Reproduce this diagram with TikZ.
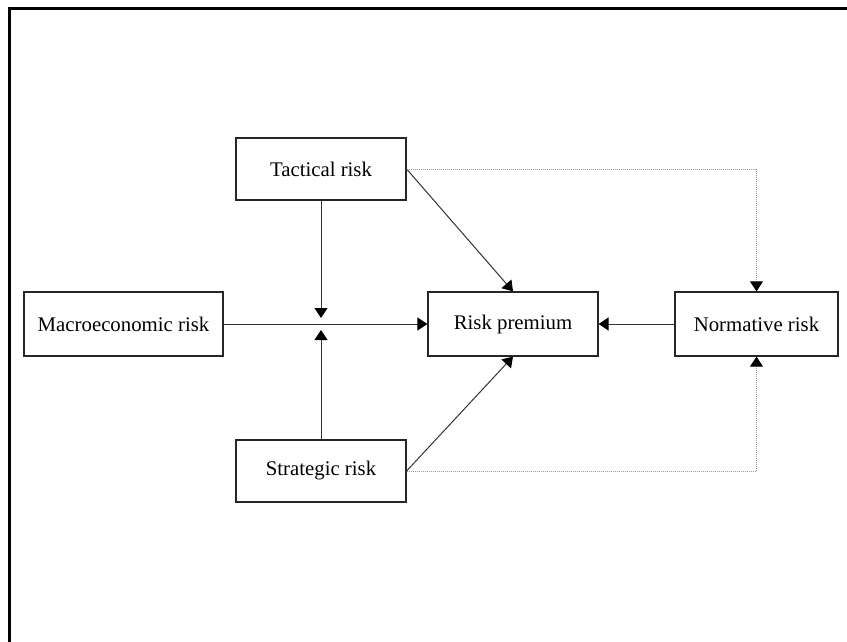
\documentclass[tikz,border=0pt]{standalone}
\usepackage{fontspec}
\setmainfont{Liberation Serif}
\usetikzlibrary{arrows.meta}
\begin{document}
\begin{tikzpicture}[x=1pt,y=-1pt,
  box/.style={draw=black!85, line width=1.2pt, fill=white, inner sep=0pt,
    font=\fontsize{20.8}{25}\selectfont},
  arr/.style={draw=black!80, line width=1pt, -{Triangle[length=10pt,width=13pt,fill=black,color=black]}},
  dotarr/.style={draw=black!40, line width=0.8pt, dash pattern=on 1pt off 1pt,
    -{Triangle[length=10pt,width=13pt,fill=black,color=black]}}]
\useasboundingbox (0,0) rectangle (847,642);
\draw[line width=3pt] (9,642) -- (9,9) -- (847,9);
\node[box, minimum width=199pt, minimum height=64pt] (mac) at (123.5,324) {Macroeconomic risk};
\node[box, minimum width=170pt, minimum height=62pt] (tac) at (321,169) {Tactical risk};
\node[box, minimum width=170pt, minimum height=62pt] (str) at (321,471) {Strategic risk};
\node[box, minimum width=170pt, minimum height=64pt] (rp) at (513,324) {Risk premium};
\node[box, minimum width=163pt, minimum height=64pt] (nor) at (756.5,324) {Normative risk};
\coordinate (j) at (321,324);
\draw[arr] (mac) -- (rp);
\draw[arr, shorten >=6pt] (tac) -- (j);
\draw[arr, shorten >=6pt] (str) -- (j);
\draw[arr] (tac.east) -- (rp.north);
\draw[arr] (str.east) -- (rp.south);
\draw[arr] (nor) -- (rp);
\draw[dotarr] (tac.east) -| (nor.north);
\draw[dotarr] (str.east) -| (nor.south);
\end{tikzpicture}
\end{document}
